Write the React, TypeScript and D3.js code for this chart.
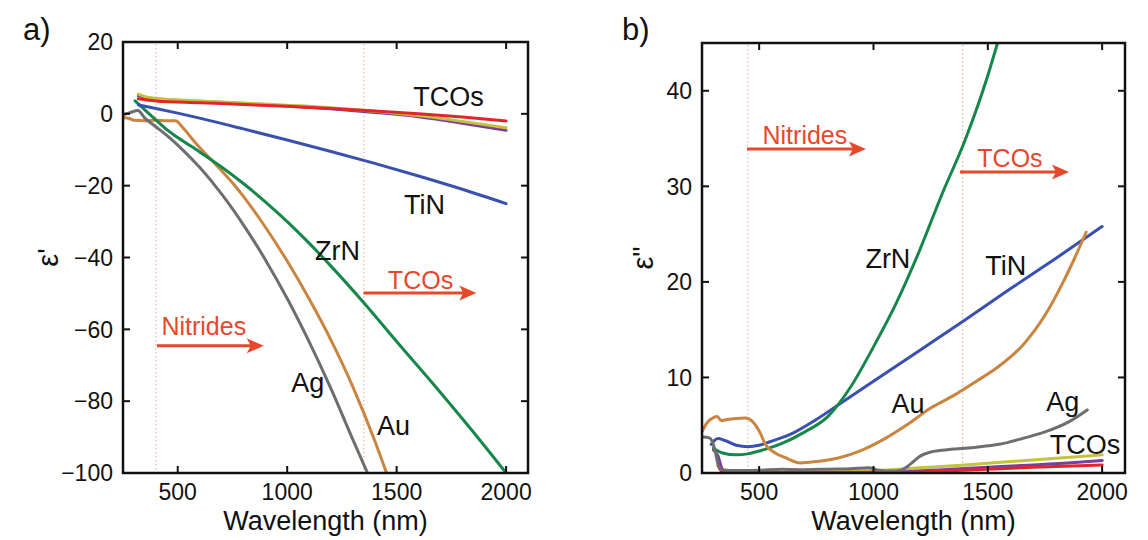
import React from 'react';
import * as d3 from 'd3';

type Pt = [number, number];

// ---------- shared axis data ----------
const wavelengthDomain: [number, number] = [250, 2100];
const wavelengthTicks = [500, 1000, 1500, 2000];
const realDomain: [number, number] = [-100, 20];
const realTicks = [20, 0, -20, -40, -60, -80, -100];
const imagDomain: [number, number] = [0, 45];
const imagTicks = [0, 10, 20, 30, 40];

// ---------- panel a: real permittivity ----------
const tcoRedReal: Pt[] = [[320, 4.2], [400, 3.6], [600, 3.1], [800, 2.6], [1000, 2.1], [1200, 1.5], [1400, 0.8], [1600, 0.0], [1800, -0.9], [2000, -2.0]];
const tcoYellowReal: Pt[] = [[320, 5.5], [350, 4.8], [400, 4.3], [600, 3.6], [800, 3.0], [1000, 2.4], [1200, 1.7], [1400, 0.7], [1600, -0.5], [1800, -2.1], [2000, -3.9]];
const tcoPurpleReal: Pt[] = [[320, 5.0], [400, 4.2], [600, 3.5], [800, 2.9], [1000, 2.2], [1200, 1.4], [1400, 0.4], [1600, -0.8], [1800, -2.6], [2000, -4.6]];
const tinReal: Pt[] = [[320, 2.5], [400, 1.5], [500, 0.2], [600, -1.2], [800, -4.2], [1000, -7.3], [1200, -10.5], [1400, -13.8], [1600, -17.3], [1800, -21], [2000, -25]];
const zrnReal: Pt[] = [[305, 3.6], [350, 1.1], [400, -1.7], [450, -4.4], [500, -6.6], [600, -10.6], [700, -14.8], [800, -19.4], [900, -24.5], [1000, -30], [1100, -36], [1200, -42.4], [1350, -52.6], [1500, -63.4], [1700, -77.6], [1850, -88.6], [2000, -100]];
const agReal: Pt[] = [[250, -0.3], [285, 0.4], [318, 0.9], [350, -1.2], [400, -3.6], [450, -6.0], [500, -8.7], [600, -14.9], [700, -22.3], [800, -30.9], [900, -40.6], [1000, -51.4], [1100, -63.4], [1200, -76.5], [1300, -90.7], [1367, -100]];
const auReal: Pt[] = [[250, -1.0], [280, -1.3], [300, -1.8], [350, -1.9], [400, -1.8], [450, -1.9], [490, -1.9], [520, -3.6], [560, -6.5], [600, -9.4], [650, -12.6], [700, -15.8], [750, -19.2], [800, -23], [900, -31.5], [1000, -41], [1100, -51.5], [1200, -63], [1300, -76], [1400, -91], [1454, -100]];

// ---------- panel b: imaginary permittivity ----------
const tcoYellowImag: Pt[] = [[320, 1.5], [340, 0.3], [400, 0.1], [600, 0.1], [800, 0.15], [1000, 0.25], [1200, 0.55], [1400, 0.85], [1600, 1.2], [1800, 1.55], [2000, 1.9]];
const tcoPurpleImag: Pt[] = [[300, 2.4], [320, 1.8], [335, 0.6], [350, 0.15], [400, 0.05], [800, 0.05], [1100, 0.1], [1300, 0.35], [1500, 0.6], [1700, 0.85], [1850, 1.05], [2000, 1.3]];
const tcoRedImag: Pt[] = [[320, 0.8], [340, 0.1], [400, 0.02], [1100, 0.02], [1300, 0.2], [1500, 0.4], [1700, 0.6], [2000, 0.85]];
const tinImag: Pt[] = [[290, 3.0], [320, 3.6], [350, 3.4], [400, 2.9], [450, 2.75], [500, 2.9], [550, 3.3], [650, 4.2], [750, 5.6], [850, 7.2], [1000, 9.6], [1200, 12.8], [1400, 16.0], [1600, 19.3], [1800, 22.5], [2000, 25.8]];
const zrnImag: Pt[] = [[300, 2.6], [340, 2.1], [400, 1.9], [450, 2.0], [500, 2.3], [600, 3.1], [700, 4.3], [800, 5.9], [900, 9.0], [1000, 13.2], [1100, 17.8], [1200, 23.2], [1300, 29.2], [1400, 34.8], [1500, 41.6], [1545, 45.2]];
const agImag: Pt[] = [[250, 3.8], [280, 3.7], [295, 3.3], [310, 2.0], [320, 0.9], [335, 0.35], [400, 0.25], [500, 0.3], [600, 0.4], [700, 0.35], [800, 0.4], [900, 0.45], [980, 0.55], [1020, 0.3], [1080, 0.2], [1120, 0.3], [1160, 0.9], [1200, 1.7], [1250, 2.2], [1350, 2.5], [1450, 2.7], [1550, 3.0], [1650, 3.6], [1750, 4.3], [1850, 5.3], [1935, 6.6]];
const auImag: Pt[] = [[250, 4.3], [270, 5.2], [300, 5.8], [316, 5.9], [335, 5.5], [360, 5.6], [400, 5.7], [440, 5.75], [470, 5.4], [500, 4.4], [530, 2.9], [570, 2.1], [620, 1.55], [680, 1.05], [750, 1.2], [850, 1.6], [950, 2.4], [1050, 3.6], [1150, 5.1], [1250, 6.8], [1350, 8.1], [1450, 9.6], [1550, 11.2], [1650, 13.3], [1750, 16.5], [1830, 20.0], [1880, 22.5], [1930, 25.2]];

// ---------- annotations (data coordinates) ----------
const realRegionLines = [400, 1350];
const imagRegionLines = [450, 1390];
type Label = { text: string; x: number; y: number };
const realLabels: Label[] = [
  { text: 'TCOs', x: 1737, y: 5.0 },
  { text: 'TiN', x: 1627, y: -25.2 },
  { text: 'ZrN', x: 1230, y: -38 },
  { text: 'Ag', x: 1094, y: -74.7 },
  { text: 'Au', x: 1486, y: -86.6 },
];
const realRedLabels: Label[] = [
  { text: 'TCOs', x: 1609, y: -46.3 },
  { text: 'Nitrides', x: 619, y: -59 },
];
const realArrows: [number, number, number][] = [[1349, 1864, -49.9], [405, 893, -64.6]];
const imagLabels: Label[] = [
  { text: 'ZrN', x: 1063, y: 22.5 },
  { text: 'TiN', x: 1579, y: 21.7 },
  { text: 'Au', x: 1151, y: 7.3 },
  { text: 'Ag', x: 1828, y: 7.5 },
  { text: 'TCOs', x: 1925, y: 3.0 },
];
const imagRedLabels: Label[] = [
  { text: 'Nitrides', x: 700, y: 35.4 },
  { text: 'TCOs', x: 1597, y: 33.0 },
];
const imagArrows: [number, number, number][] = [[447, 967, 33.9], [1378, 1855, 31.5]];

const COLORS = {
  red: '#e3242b',
  yellow: '#c4c43c',
  purple: '#7b3e9c',
  tin: '#3a50b0',
  zrn: '#16874a',
  ag: '#6e6e6e',
  au: '#c98540',
  annot: '#e5482b',
  dotted: '#e6b4a4',
};

const FONT = '"Liberation Sans", Arial, Helvetica, sans-serif';

type Series = { data: Pt[]; color: string };

type PanelProps = {
  id: string;
  letter: string;
  yLabel: string;
  left: number;
  right: number;
  top: number;
  bottom: number;
  yDomain: [number, number];
  yTicks: number[];
  series: Series[];
  regionLines: number[];
  labels: Label[];
  redLabels: Label[];
  arrows: [number, number, number][];
  yLabelX: number;
  letterX: number;
};

const fmt = (v: number) => (v < 0 ? '\u2212' + Math.abs(v) : String(v));

function Panel(p: PanelProps) {
  const x = d3.scaleLinear().domain(wavelengthDomain).range([p.left, p.right]);
  const y = d3.scaleLinear().domain(p.yDomain).range([p.bottom, p.top]);
  const line = d3
    .line<Pt>()
    .x((d) => x(d[0]))
    .y((d) => y(d[1]))
    .curve(d3.curveMonotoneX);
  const tickLen = 7;
  const clipId = 'clip-' + p.id;
  const cy = (p.top + p.bottom) / 2;
  return (
    <g>
      <defs>
        <clipPath id={clipId}>
          <rect x={p.left} y={p.top} width={p.right - p.left} height={p.bottom - p.top} />
        </clipPath>
      </defs>
      {p.regionLines.map((w) => (
        <line key={'r' + w} x1={x(w)} x2={x(w)} y1={p.top + 2} y2={p.bottom - 2} stroke={COLORS.dotted} strokeWidth={1.2} strokeDasharray="1.5,2.5" />
      ))}
      <g clipPath={`url(#${clipId})`}>
        {p.series.map((s, i) => (
          <path key={i} d={line(s.data) || ''} fill="none" stroke={s.color} strokeWidth={3} strokeLinejoin="round" strokeLinecap="round" />
        ))}
      </g>
      <rect x={p.left} y={p.top} width={p.right - p.left} height={p.bottom - p.top} fill="none" stroke="#111" strokeWidth={2.5} />
      {wavelengthTicks.map((t) => (
        <g key={'x' + t}>
          <line x1={x(t)} x2={x(t)} y1={p.bottom} y2={p.bottom - tickLen} stroke="#111" strokeWidth={2} />
          <line x1={x(t)} x2={x(t)} y1={p.top} y2={p.top + tickLen} stroke="#111" strokeWidth={2} />
          <text x={x(t)} y={p.bottom + 27} textAnchor="middle" fontSize={23} fontFamily={FONT} fill="#111">
            {fmt(t)}
          </text>
        </g>
      ))}
      {p.yTicks.map((t) => (
        <g key={'y' + t}>
          <line x1={p.left} x2={p.left + tickLen} y1={y(t)} y2={y(t)} stroke="#111" strokeWidth={2} />
          <line x1={p.right} x2={p.right - tickLen} y1={y(t)} y2={y(t)} stroke="#111" strokeWidth={2} />
          <text x={p.left - 10} y={y(t)} dy="0.36em" textAnchor="end" fontSize={23} fontFamily={FONT} fill="#111">
            {fmt(t)}
          </text>
        </g>
      ))}
      <text x={(p.left + p.right) / 2} y={530} textAnchor="middle" fontSize={27} fontFamily={FONT} fill="#111">
        Wavelength (nm)
      </text>
      <text transform={`translate(${p.yLabelX},${cy}) rotate(-90)`} textAnchor="middle" dy="0.35em" fontSize={29} fontFamily={FONT} fill="#111">
        {p.yLabel}
      </text>
      <text x={p.letterX} y={40} fontSize={31} fontFamily={FONT} fill="#111">
        {p.letter}
      </text>
      {p.labels.map((l) => (
        <text key={l.text} x={x(l.x)} y={y(l.y)} dy="0.36em" textAnchor="middle" fontSize={27} fontFamily={FONT} fill="#111">
          {l.text}
        </text>
      ))}
      {p.redLabels.map((l) => (
        <text key={'red' + l.text} x={x(l.x)} y={y(l.y)} dy="0.36em" textAnchor="middle" fontSize={25} fontFamily={FONT} fill={COLORS.annot}>
          {l.text}
        </text>
      ))}
      {p.arrows.map(([a, b, v], i) => {
        const x1 = x(a);
        const x2 = x(b);
        const yy = y(v);
        return (
          <g key={'a' + i}>
            <line x1={x1} x2={x2 - 12} y1={yy} y2={yy} stroke={COLORS.annot} strokeWidth={3} />
            <path d={`M${x2},${yy} L${x2 - 17},${yy - 7.5} L${x2 - 13},${yy} L${x2 - 17},${yy + 7.5} Z`} fill={COLORS.annot} />
          </g>
        );
      })}
    </g>
  );
}

export default function App() {
  const seriesA: Series[] = [
    { data: tcoPurpleReal, color: COLORS.purple },
    { data: tcoYellowReal, color: COLORS.yellow },
    { data: tcoRedReal, color: COLORS.red },
    { data: auReal, color: COLORS.au },
    { data: agReal, color: COLORS.ag },
    { data: zrnReal, color: COLORS.zrn },
    { data: tinReal, color: COLORS.tin },
  ];
  const seriesB: Series[] = [
    { data: tcoYellowImag, color: COLORS.yellow },
    { data: tcoPurpleImag, color: COLORS.purple },
    { data: tcoRedImag, color: COLORS.red },
    { data: tinImag, color: COLORS.tin },
    { data: zrnImag, color: COLORS.zrn },
    { data: agImag, color: COLORS.ag },
    { data: auImag, color: COLORS.au },
  ];
  return (
    <svg width={1148} height={540} style={{ position: 'absolute', left: 0, top: 0, background: '#fff' }}>
      <rect x={0} y={0} width={1148} height={540} fill="#fff" />
      <Panel
        id="a"
        letter="a)"
        yLabel="ε'"
        left={123}
        right={528}
        top={42}
        bottom={473}
        yDomain={realDomain}
        yTicks={realTicks}
        series={seriesA}
        regionLines={realRegionLines}
        labels={realLabels}
        redLabels={realRedLabels}
        arrows={realArrows}
        yLabelX={48}
        letterX={23}
      />
      <Panel
        id="b"
        letter="b)"
        yLabel={'ε"'}
        left={702}
        right={1125}
        top={43}
        bottom={473}
        yDomain={imagDomain}
        yTicks={imagTicks}
        series={seriesB}
        regionLines={imagRegionLines}
        labels={imagLabels}
        redLabels={imagRedLabels}
        arrows={imagArrows}
        yLabelX={643}
        letterX={622}
      />
    </svg>
  );
}
